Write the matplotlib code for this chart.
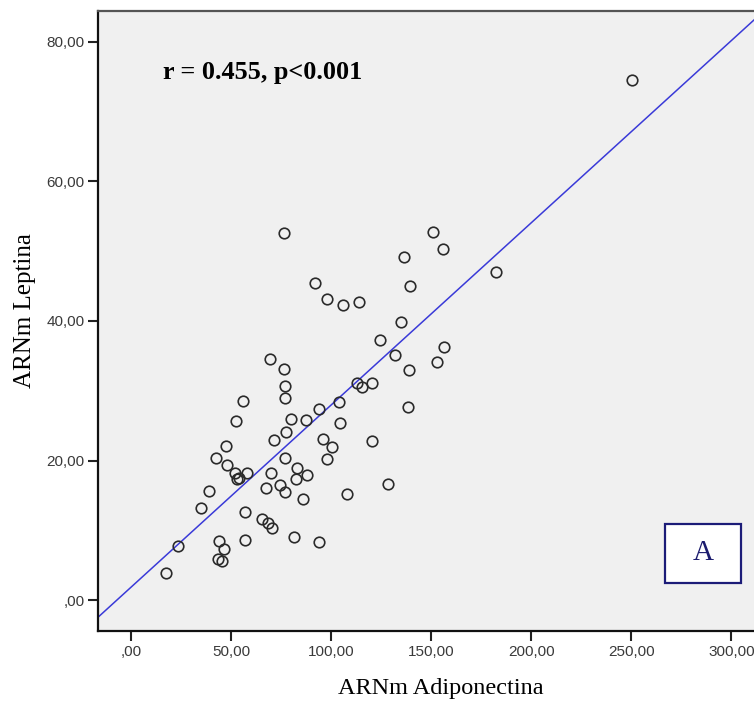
import numpy as np
import matplotlib
import matplotlib.pyplot as plt
from matplotlib.patches import Rectangle

matplotlib.use('Agg')

# ARNm Adiponectina (x) vs ARNm Leptina (y)
adiponectina = [17.1, 23.4, 34.6, 38.8, 42.4, 47.1, 47.9, 51.6, 52.6, 53.9,
                57.9, 52.3, 55.9, 43.8, 46.4, 43.4, 45.4, 56.8, 56.9, 65.1,
                68.4, 70.4, 67.1, 69.8, 74.3, 76.9, 76.9, 71.1, 77.1, 79.6,
                69.3, 76.1, 76.8, 76.9, 82.1, 82.6, 87.9, 85.9, 81.1, 93.9,
                87.1, 93.8, 95.8, 100.3, 97.9, 107.9, 104.1, 103.9, 112.8, 115.3,
                120.4, 120.1, 128.1, 124.3, 131.8, 134.8, 76.3, 91.9, 97.9, 105.6,
                113.9, 150.9, 155.8, 136.3, 139.3, 182.1, 156.1, 152.6, 138.9, 138.4,
                250.1]
leptina = [3.91, 7.74, 13.23, 15.63, 20.32, 22.08, 19.40, 18.25, 17.35, 17.45,
           18.21, 25.71, 28.57, 8.42, 7.27, 5.92, 5.55, 12.66, 8.65, 11.57,
           11.00, 10.37, 16.10, 18.25, 16.44, 15.44, 20.36, 22.90, 24.13, 25.91,
           34.59, 33.12, 30.68, 29.00, 17.35, 18.97, 17.88, 14.48, 8.99, 8.27,
           25.81, 27.38, 23.08, 21.94, 20.26, 15.24, 25.42, 28.34, 31.15, 30.58,
           31.15, 22.80, 16.59, 37.28, 35.17, 39.90, 52.57, 45.49, 43.11, 42.29,
           42.77, 52.72, 50.28, 49.22, 45.06, 47.07, 36.23, 34.12, 32.97, 27.71,
           74.51]

x_ticks = [0, 50, 100, 150, 200, 250, 300]
y_ticks = [0, 20, 40, 60, 80]
stat_text = "r = 0.455, p<0.001"
panel_label = "A"


def coma(v):
    # SPSS style: 0 -> ",00", 50 -> "50,00"
    s = f"{v:.2f}".replace('.', ',')
    return s[1:] if s.startswith('0,') else s


x = np.array(adiponectina)
y = np.array(leptina)
slope, intercept = np.polyfit(x, y, 1)

fig = plt.figure(figsize=(7.54, 7.07), dpi=100)
W, H = 754, 707
left, right, bottom, top = 98.3, 754, 631, 11
ax = fig.add_axes([left / W, 1 - bottom / H, (right - left) / W, (bottom - top) / H])
ax.set_facecolor('#f0f0f0')

xlim = (-16.6, 311.3)
ylim = (-4.44, 84.44)
ax.set_xlim(*xlim)
ax.set_ylim(*ylim)

ax.plot(x, y, 'o', ms=7.6, mfc='none', mec='#2a2a2a', mew=1.2, zorder=3)
xx = np.array(xlim)
ax.plot(xx, intercept + slope * xx, color='#3a3ad8', lw=1.1, zorder=2)

ax.set_xticks(x_ticks)
ax.set_xticklabels([coma(v) for v in x_ticks])
ax.set_yticks(y_ticks)
ax.set_yticklabels([coma(v) for v in y_ticks])
ax.tick_params(length=7, width=1.5, color='#222222', pad=3, labelsize=11,
               labelcolor='#3a3a3a')
for lab in ax.get_xticklabels() + ax.get_yticklabels():
    lab.set_family('Liberation Sans')

for side in ['left', 'bottom']:
    ax.spines[side].set_linewidth(1.6)
    ax.spines[side].set_color('#111111')
ax.spines['top'].set_linewidth(1.6)
ax.spines['top'].set_color('#555555')
ax.spines['right'].set_visible(False)

# the original plot area runs past the right edge, so the labels sit off-centre
ax.set_xlabel('ARNm Adiponectina', family='Liberation Serif', fontsize=17.5)
ax.xaxis.set_label_coords(0.5227, -0.076)
ax.set_ylabel('ARNm Leptina', family='Liberation Serif', fontsize=18)
ax.yaxis.set_label_coords(-0.095, 0.517)

ax.text((162.7 - left) / (right - left), 1 - (72 - top) / (bottom - top), stat_text,
        transform=ax.transAxes, family='Liberation Serif', fontweight='bold',
        fontsize=18.8, ha='left', va='center')

ax.add_patch(Rectangle(((665 - left) / (right - left), (bottom - 583) / (bottom - top)),
                       76 / (right - left), 59 / (bottom - top), transform=ax.transAxes,
                       facecolor='white', edgecolor='#1c1c78', lw=1.6, zorder=4))
ax.text((703 - left) / (right - left), (bottom - 553.5) / (bottom - top), panel_label,
        transform=ax.transAxes, family='Liberation Serif', fontsize=21,
        color='#1c1c6e', ha='center', va='center', zorder=5)

fig.savefig('out.png', dpi=100)
